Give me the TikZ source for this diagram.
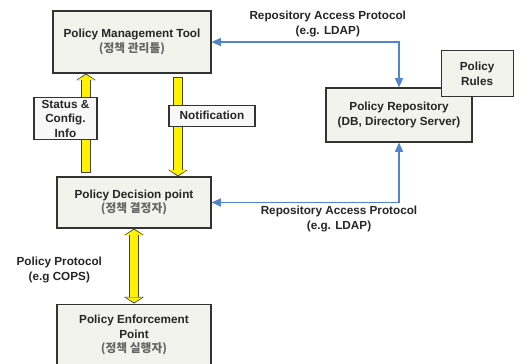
\documentclass[tikz,border=0pt]{standalone}
\usepackage{fontspec}
\setmainfont{Liberation Sans}
\newfontfamily\korfont{Noto Sans CJK KR}
\usetikzlibrary{arrows.meta, positioning, calc}

\definecolor{boxfill}{RGB}{241,243,236}
\definecolor{notefill}{RGB}{248,248,248}
\definecolor{linkblue}{RGB}{82,132,202}

\newcommand{\kr}[1]{{\korfont\color{black!60}#1}}

\begin{document}
\begin{tikzpicture}[x=0.75pt, y=-0.75pt, >=Latex,
    font=\fontsize{8.8pt}{11pt}\selectfont\bfseries,
    block/.style={rectangle, draw=black!80, line width=0.8pt, fill=boxfill, align=center, text=black!85, inner sep=0pt},
    note/.style={rectangle, draw=black!80, line width=0.8pt, fill=notefill, align=center, text=black!85, inner sep=0pt},
    tag/.style={align=center, text=black!85, inner sep=1pt},
    link/.style={draw=linkblue, line width=1.1pt, {Triangle[width=6pt,length=7pt]}-{Triangle[width=6pt,length=7pt]}},
    fatout/.style={draw=black!75, line width=7.5pt},
    fatin/.style={draw=yellow, line width=6pt, shorten >=0.9pt},
    bigtip/.tip={Triangle[width=15pt,length=5pt,line width=0pt]},
    smalltip/.tip={Triangle[width=12.5pt,length=3.8pt,line width=0pt]}]

    \useasboundingbox (0,0) rectangle (530,363);
    \clip (0,0) rectangle (530,363);

    \node (pmt) [block, minimum width=118.5pt, minimum height=46.5pt] at (132,42) {Policy Management Tool\\\kr{(정책 관리툴)}};
    \node (pdp) [block, minimum width=115.5pt, minimum height=38.25pt] at (134,202.5) {Policy Decision point\\\kr{(정책 결정자)}};
    \node (pep) [block, minimum width=115.5pt, minimum height=46.5pt, below=56.25pt of pdp] {Policy Enforcement\\Point\\\kr{(정책 실행자)}};
    \node (repo) [block, minimum width=109.5pt, minimum height=40.5pt] at (399,115) {Policy Repository\\(DB, Directory Server)};
    \node (rules) [block, minimum width=54pt, minimum height=34.5pt, anchor=south west] at ([xshift=-24pt, yshift=-7.5pt]repo.north east) {Policy\\Rules};

    %% repository access
    \draw[link] (pmt.east) -| node[tag, pos=0.31, above=2.5pt] (rap1) {Repository Access Protocol\\(e.g. LDAP)} (repo.north);
    \draw[link] (pdp.east) -| node[tag, pos=0.34, below=1pt] (rap2) {Repository Access Protocol\\(e.g. LDAP)} (repo.south);

    %% status up
    \coordinate (sa) at ([xshift=-36pt]pdp.north);
    \draw[fatout, -bigtip, shorten <=2.25pt] (sa) -- (sa |- pmt.south);
    \draw[fatin, -smalltip, shorten <=3pt] (sa) -- (sa |- pmt.south)
        node[note, pos=0.56, xshift=-15.4pt, minimum width=47.25pt, minimum height=31.5pt] (status) {Status \&\\Config.\\Info};

    %% notification down
    \coordinate (na) at ([xshift=33pt]pdp.north);
    \draw[fatout, -bigtip, shorten <=2.25pt] (na |- pmt.south) -- (na);
    \draw[fatin, -smalltip, shorten <=3pt] (na |- pmt.south) -- (na)
        node[note, pos=0.41, xshift=25.5pt, minimum width=64.5pt, minimum height=15.75pt] (notif) {Notification};

    %% policy protocol
    \draw[fatout, bigtip-bigtip] (pdp.south) -- (pep.north);
    \draw[fatin, smalltip-smalltip, shorten <=0.9pt] (pdp.south) -- (pep.north)
        node[tag, pos=0.55, left=20pt] (proto) {Policy Protocol\\(e.g COPS)};

\end{tikzpicture}
\end{document}
